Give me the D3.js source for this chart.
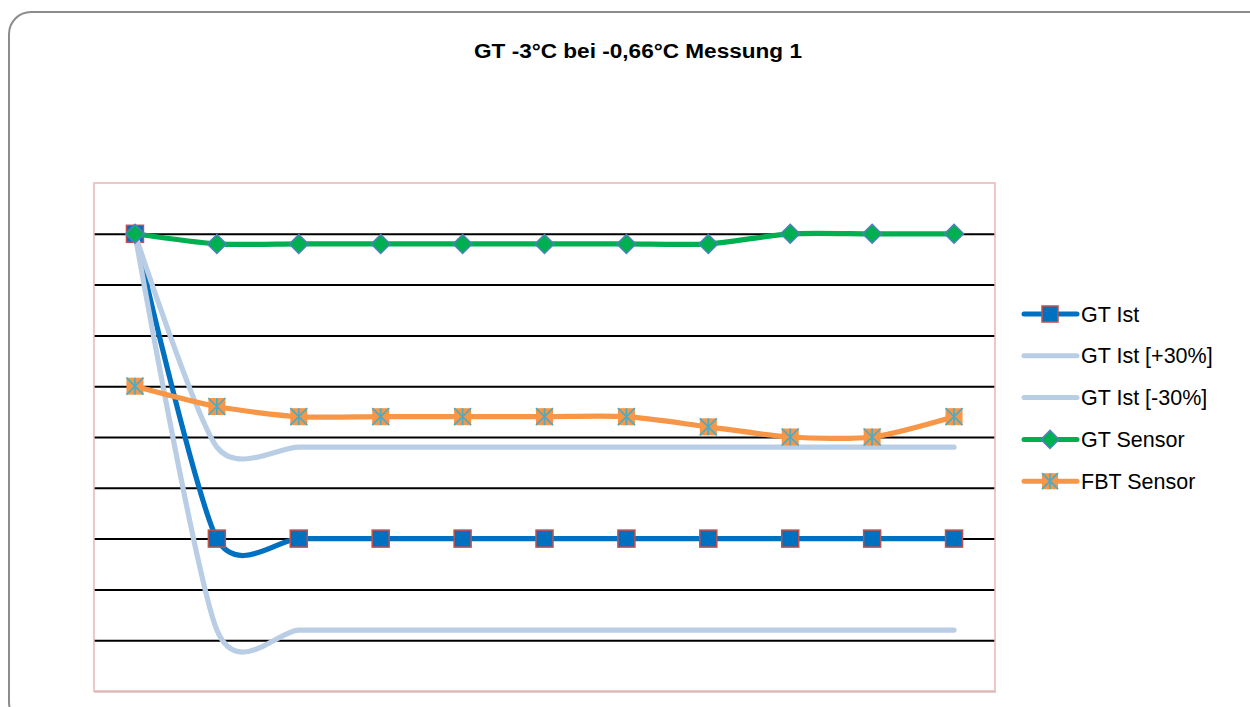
<!DOCTYPE html>
<html>
<head>
<meta charset="utf-8">
<script src="https://cdn.jsdelivr.net/npm/d3@7"></script>
<style>
  html, body { margin: 0; padding: 0; background: #fff; }
  svg { display: block; }
  text { font-family: "Liberation Sans", Arial, sans-serif; }
</style>
</head>
<body>
<svg id="chart" width="1250" height="707"></svg>
<script>
// ---- data ----
const title = "GT -3°C bei -0,66°C Messung 1";
const categories = ["1","2","3","4","5","6","7","8","9","10","11"];
const gtIst      = [0, -3, -3, -3, -3, -3, -3, -3, -3, -3, -3];
const gtIstPlus  = [0, -2.1, -2.1, -2.1, -2.1, -2.1, -2.1, -2.1, -2.1, -2.1, -2.1];
const gtIstMinus = [0, -3.9, -3.9, -3.9, -3.9, -3.9, -3.9, -3.9, -3.9, -3.9, -3.9];
const gtSensor   = [0, -0.1, -0.1, -0.1, -0.1, -0.1, -0.1, -0.1, 0, 0, 0];
const fbtSensor  = [-1.5, -1.7, -1.8, -1.8, -1.8, -1.8, -1.8, -1.9, -2.0, -2.0, -1.8];
const yTicks = [-4, -3.5, -3, -2.5, -2, -1.5, -1, -0.5, 0];
const seriesNames = ["GT Ist", "GT Ist [+30%]", "GT Ist [-30%]", "GT Sensor", "FBT Sensor"];

const series = [
  { name: seriesNames[0], values: gtIst,      color: "#0070C0", marker: "square" },
  { name: seriesNames[1], values: gtIstPlus,  color: "#B9CDE5", marker: "none" },
  { name: seriesNames[2], values: gtIstMinus, color: "#B9CDE5", marker: "none" },
  { name: seriesNames[3], values: gtSensor,   color: "#00B050", marker: "diamond" },
  { name: seriesNames[4], values: fbtSensor,  color: "#F79646", marker: "star" }
];

const svg = d3.select("#chart");

// outer rounded frame
svg.append("rect")
  .attr("x", 9).attr("y", 12).attr("width", 1275).attr("height", 712)
  .attr("rx", 22).attr("ry", 22)
  .attr("fill", "#fff").attr("stroke", "#8c8c8c").attr("stroke-width", 2);

// title
svg.append("text")
  .attr("x", 638).attr("y", 58)
  .attr("text-anchor", "middle")
  .attr("font-size", 19.5).attr("font-weight", "bold")
  .attr("fill", "#000")
  .attr("textLength", 328).attr("lengthAdjust", "spacingAndGlyphs")
  .text(title);

const plot = { left: 94, right: 995, top: 183, bottom: 691 };

const x = d3.scalePoint().domain(categories).range([plot.left, plot.right]).padding(0.5);
const y = d3.scaleLinear().domain([-4.5, 0.5]).range([plot.bottom, plot.top]);

// plot area
svg.append("rect")
  .attr("x", plot.left).attr("y", plot.top)
  .attr("width", plot.right - plot.left).attr("height", plot.bottom - plot.top)
  .attr("fill", "#fff");

// gridlines via axis
const grid = svg.append("g")
  .attr("transform", `translate(${plot.left},0)`)
  .call(d3.axisLeft(y).tickValues(yTicks).tickSize(-(plot.right - plot.left)).tickFormat(""));
grid.select(".domain").remove();
grid.selectAll(".tick line").attr("stroke", "#000").attr("stroke-width", 2);

// plot border
svg.append("rect")
  .attr("x", plot.left).attr("y", plot.top)
  .attr("width", plot.right - plot.left).attr("height", plot.bottom - plot.top)
  .attr("fill", "none").attr("stroke", "#E8B7B7").attr("stroke-width", 1.5);
svg.append("line")
  .attr("x1", plot.left).attr("x2", plot.right + 1)
  .attr("y1", plot.bottom + 1).attr("y2", plot.bottom + 1)
  .attr("stroke", "#C9A3A3").attr("stroke-width", 1);

const line = d3.line()
  .x((d, i) => x(categories[i]))
  .y(d => y(d))
  .curve(d3.curveCardinal.tension(0.25));

function drawMarker(g, type, cx, cy, size) {
  if (type === "square") {
    g.append("rect")
      .attr("x", cx - size / 2).attr("y", cy - size / 2)
      .attr("width", size).attr("height", size)
      .attr("fill", "#0070C0").attr("stroke", "#C0504D").attr("stroke-width", 1.5);
  } else if (type === "diamond") {
    const r = size / 2 + 1;
    g.append("path")
      .attr("d", `M${cx},${cy - r}L${cx + r},${cy}L${cx},${cy + r}L${cx - r},${cy}Z`)
      .attr("fill", "#00B050").attr("stroke", "#4F81BD").attr("stroke-width", 1.5);
  } else if (type === "star") {
    const h = size / 2;
    g.append("rect")
      .attr("x", cx - h).attr("y", cy - h)
      .attr("width", size).attr("height", size)
      .attr("fill", "#F79646");
    g.append("path")
      .attr("d", `M${cx},${cy - h}L${cx},${cy + h}M${cx - h},${cy - h}L${cx + h},${cy + h}M${cx + h},${cy - h}L${cx - h},${cy + h}`)
      .attr("stroke", "#4BACC6").attr("stroke-width", 1.7).attr("fill", "none");
  }
}

series.forEach(s => {
  const g = svg.append("g");
  g.append("path")
    .datum(s.values)
    .attr("d", line)
    .attr("fill", "none")
    .attr("stroke", s.color)
    .attr("stroke-width", 5.2)
    .attr("stroke-linecap", "round")
    .attr("stroke-linejoin", "round");
  if (s.marker !== "none") {
    s.values.forEach((v, i) => drawMarker(g, s.marker, x(categories[i]), y(v), 17));
  }
});

// legend
const legendY0 = 314, legendStep = 41.8;
series.forEach((s, i) => {
  const ly = legendY0 + i * legendStep;
  const g = svg.append("g");
  g.append("line")
    .attr("x1", 1024).attr("x2", 1077)
    .attr("y1", ly).attr("y2", ly)
    .attr("stroke", s.color).attr("stroke-width", 5).attr("stroke-linecap", "round");
  if (s.marker !== "none") drawMarker(g, s.marker, 1050, ly, 16);
  g.append("text")
    .attr("x", 1081).attr("y", ly + 7.5)
    .attr("font-size", 21.5).attr("fill", "#000")
    .text(s.name);
});
</script>
</body>
</html>
